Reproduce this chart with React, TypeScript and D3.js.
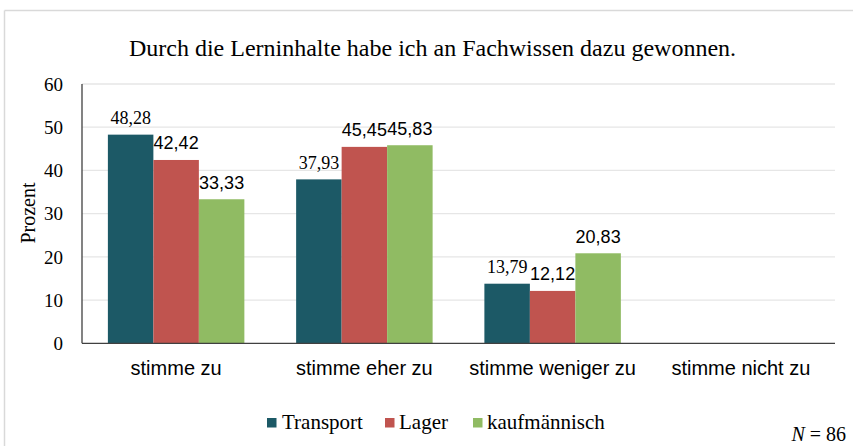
import React from "react";
import * as d3 from "d3";

const categories = ["stimme zu", "stimme eher zu", "stimme weniger zu", "stimme nicht zu"];
const seriesNames = ["Transport", "Lager", "kaufmännisch"];
const transport = [48.28, 37.93, 13.79, 0];
const lager = [42.42, 45.45, 12.12, 0];
const kaufmaennisch = [33.33, 45.83, 20.83, 0];
const yTicks = [0, 10, 20, 30, 40, 50, 60];
const title = "Durch die Lerninhalte habe ich an Fachwissen dazu gewonnen.";

const colors = ["#1c5966", "#c0544f", "#90bb63"];
const labelFonts = ["'Liberation Serif', 'Times New Roman', serif", "'Liberation Sans', Arial, sans-serif", "'Liberation Sans', Arial, sans-serif"];
const serif = "'Liberation Serif', 'Times New Roman', serif";
const sans = "'Liberation Sans', Arial, sans-serif";

export default function App() {
  const W = 853, H = 446;
  const left = 82, right = 835, top = 84, bottom = 343.3;
  const series = [transport, lager, kaufmaennisch];
  const x0 = d3.scaleBand<string>().domain(categories).range([left, right]).paddingInner(0.275).paddingOuter(0.1375);
  const x1 = d3.scaleBand<string>().domain(seriesNames).range([0, x0.bandwidth()]).padding(0);
  const y = d3.scaleLinear().domain([0, 60]).range([bottom, top]);
  const fmt = (v: number) => v.toFixed(2).replace(".", ",");

  const legendItems = [
    { name: seriesNames[0], sq: 267, tx: 282 },
    { name: seriesNames[1], sq: 385, tx: 399 },
    { name: seriesNames[2], sq: 473, tx: 487 },
  ];

  return (
    <svg width={W} height={H} style={{ position: "absolute", left: 0, top: 0, background: "#fff" }}>
      <rect x={0} y={0} width={W} height={H} fill="#fff" />
      <line x1={4.5} y1={10.5} x2={W} y2={10.5} stroke="#d9d9d9" strokeWidth={1.5} />
      <line x1={4.5} y1={10.5} x2={4.5} y2={H} stroke="#d9d9d9" strokeWidth={1.5} />
      <text x={432.5} y={56} textAnchor="middle" fontFamily={serif} fontSize={24} fill="#000">{title}</text>
      {yTicks.map((t) => (
        <g key={t}>
          {t > 0 && <line x1={left} x2={right} y1={y(t)} y2={y(t)} stroke="#e6e6e6" strokeWidth={1.3} />}
          <text x={63} y={y(t)} dy="0.35em" textAnchor="end" fontFamily={serif} fontSize={19} fill="#000">{t}</text>
        </g>
      ))}
      <text transform={`translate(28,213) rotate(-90)`} textAnchor="middle" dy="0.35em" fontFamily={serif} fontSize={20} fill="#000">Prozent</text>
      {categories.map((c, ci) => (
        <g key={c}>
          {series.map((s, si) => {
            const v = s[ci];
            if (v <= 0) return null;
            const bx = (x0(c) as number) + (x1(seriesNames[si]) as number);
            const bw = x1.bandwidth();
            return (
              <g key={si}>
                <rect x={bx} y={y(v)} width={bw} height={y(0) - y(v)} fill={colors[si]} />
                <text x={bx + bw / 2} y={y(v) - 10.5} textAnchor="middle" fontFamily={labelFonts[si]} fontSize={18} fill="#000">{fmt(v)}</text>
              </g>
            );
          })}
          <text x={(x0(c) as number) + x0.bandwidth() / 2} y={375} textAnchor="middle" fontFamily={sans} fontSize={20} fill="#000">{c}</text>
        </g>
      ))}
      <line x1={left} x2={right} y1={bottom} y2={bottom} stroke="#404040" strokeWidth={1.3} />
      <line x1={left} x2={left} y1={top} y2={bottom} stroke="#404040" strokeWidth={1.3} />
      {legendItems.map((it, i) => (
        <g key={it.name}>
          <rect x={it.sq} y={418} width={9.5} height={9.5} fill={colors[i]} />
          <text x={it.tx} y={429} fontFamily={serif} fontSize={21} fill="#000">{it.name}</text>
        </g>
      ))}
      <text x={846} y={441} textAnchor="end" fontFamily={serif} fontSize={20} fill="#000">
        <tspan fontStyle="italic">N</tspan> = 86
      </text>
    </svg>
  );
}
